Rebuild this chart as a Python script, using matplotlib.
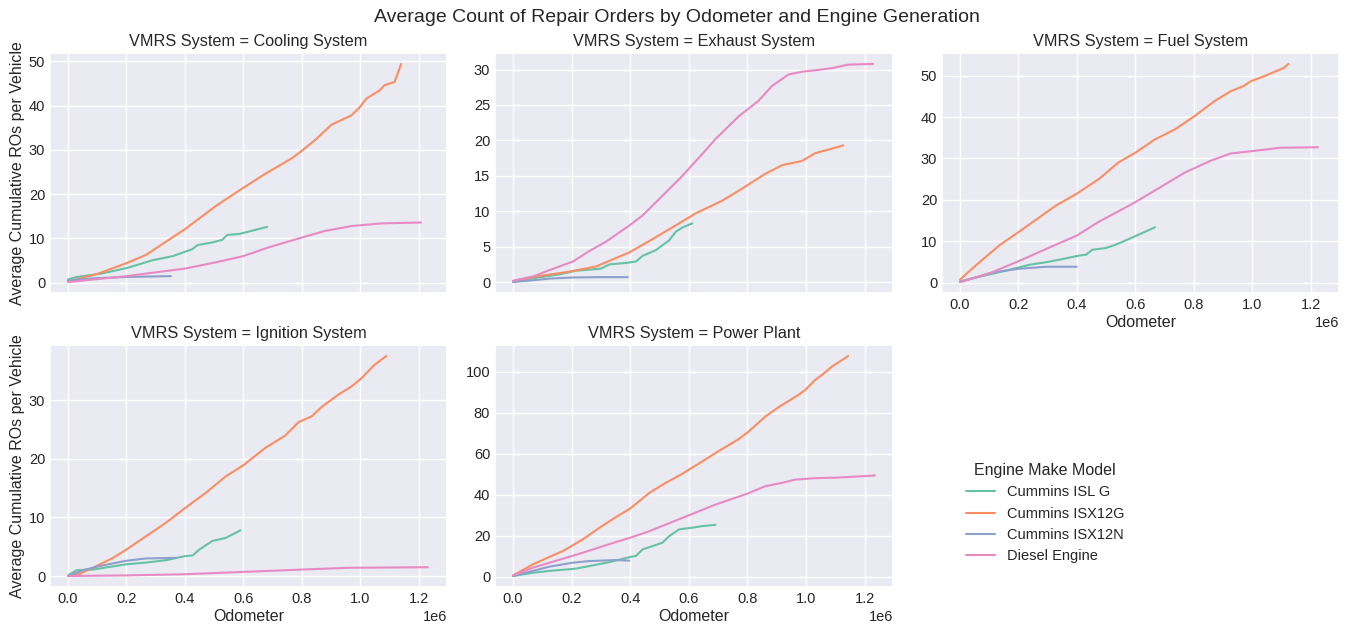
import matplotlib
matplotlib.use("Agg")
import matplotlib.pyplot as plt
import seaborn as sns

# odometer in thousands of miles, values = average cumulative ROs per vehicle
engines = ["Cummins ISL G", "Cummins ISX12G", "Cummins ISX12N", "Diesel Engine"]
systems = ["Cooling System", "Exhaust System", "Fuel System", "Ignition System", "Power Plant"]

# --- Cooling System
cool_islg_x = [0, 29, 109, 199, 245, 290, 358, 426, 443, 494, 528, 545, 585, 681]
cool_islg_y = [0.75, 1.3, 2.0, 3.3, 4.2, 5.1, 6.0, 7.6, 8.5, 9.1, 9.7, 10.8, 11.0, 12.6]
cool_isx12g_x = [0, 100, 199, 267, 400, 505, 599, 675, 766, 800, 845, 902, 970, 998, 1021, 1066, 1083, 1117, 1140]
cool_isx12g_y = [0.3, 2.0, 4.4, 6.3, 12.1, 17.3, 21.4, 24.6, 28.1, 29.8, 32.2, 35.7, 37.8, 39.6, 41.6, 43.4, 44.6, 45.3, 49.4]
cool_isx12n_x = [0, 86, 199, 352]
cool_isx12n_y = [0.5, 1.0, 1.3, 1.5]
cool_diesel_x = [0, 200, 400, 505, 599, 687, 789, 879, 970, 1072, 1208]
cool_diesel_y = [0.15, 1.5, 3.2, 4.6, 6.0, 8.0, 10.0, 11.7, 12.8, 13.4, 13.6]

# --- Exhaust System
exh_islg_x = [0, 79, 159, 215, 300, 329, 385, 419, 442, 487, 533, 555, 578, 612]
exh_islg_y = [0.1, 0.6, 1.1, 1.6, 1.9, 2.5, 2.7, 2.9, 3.7, 4.5, 5.9, 7.1, 7.7, 8.3]
exh_isx12g_x = [0, 79, 181, 283, 397, 465, 555, 623, 714, 782, 861, 918, 986, 1031, 1076, 1127]
exh_isx12g_y = [0.1, 0.8, 1.4, 2.2, 4.2, 5.8, 8.0, 9.7, 11.5, 13.2, 15.3, 16.5, 17.1, 18.2, 18.7, 19.3]
exh_isx12n_x = [0, 79, 125, 204, 295, 391]
exh_isx12n_y = [0.0, 0.3, 0.5, 0.65, 0.7, 0.7]
exh_diesel_x = [0, 68, 125, 204, 261, 317, 397, 442, 510, 578, 646, 691, 770, 838, 884, 940, 986, 1031, 1088, 1144, 1229]
exh_diesel_y = [0.2, 0.8, 1.7, 2.9, 4.4, 5.7, 8.0, 9.4, 12.2, 15.0, 18.1, 20.2, 23.4, 25.6, 27.7, 29.3, 29.7, 29.9, 30.2, 30.7, 30.8]

# --- Fuel System
fuel_islg_x = [0, 104, 199, 239, 295, 340, 408, 431, 453, 498, 532, 588, 667]
fuel_islg_y = [0.4, 2.1, 3.7, 4.4, 5.0, 5.6, 6.6, 6.8, 8.0, 8.4, 9.2, 10.9, 13.4]
fuel_isx12g_x = [0, 25, 70, 137, 199, 273, 329, 399, 476, 543, 600, 667, 735, 802, 870, 926, 971, 994, 1039, 1107, 1124]
fuel_isx12g_y = [0.8, 2.4, 5.2, 9.2, 12.2, 15.9, 18.7, 21.5, 25.1, 29.1, 31.4, 34.6, 37.0, 40.2, 43.8, 46.2, 47.5, 48.6, 49.8, 51.8, 52.8]
fuel_isx12n_x = [0, 104, 199, 295, 399]
fuel_isx12n_y = [0.2, 2.4, 3.4, 3.9, 3.9]
fuel_diesel_x = [0, 104, 199, 295, 399, 476, 588, 667, 769, 859, 926, 1039, 1095, 1225]
fuel_diesel_y = [0.2, 2.4, 5.2, 8.2, 11.4, 14.8, 19.0, 22.3, 26.6, 29.5, 31.2, 32.1, 32.6, 32.7]

# --- Ignition System
ign_islg_x = [0, 29, 86, 199, 267, 335, 400, 426, 449, 494, 539, 590]
ign_islg_y = [0.1, 1.0, 1.1, 2.0, 2.3, 2.7, 3.4, 3.5, 4.5, 6.0, 6.5, 7.8]
ign_isx12g_x = [0, 41, 97, 154, 199, 267, 335, 400, 471, 539, 599, 675, 743, 789, 834, 868, 925, 970, 1004, 1049, 1089]
ign_isx12g_y = [0, 0.4, 1.7, 3.1, 4.5, 6.8, 9.1, 11.6, 14.2, 17.0, 18.9, 21.9, 24.0, 26.3, 27.3, 28.9, 31.0, 32.4, 33.8, 36.1, 37.6]
ign_isx12n_x = [0, 52, 109, 199, 267, 369]
ign_isx12n_y = [0, 1.0, 1.7, 2.6, 3.0, 3.1]
ign_diesel_x = [0, 199, 400, 599, 800, 959, 1231]
ign_diesel_y = [0, 0.1, 0.3, 0.7, 1.1, 1.4, 1.5]

# --- Power Plant
pp_islg_x = [0, 68, 125, 215, 272, 329, 400, 419, 442, 476, 510, 533, 567, 612, 646, 691]
pp_islg_y = [0.3, 1.9, 2.8, 3.9, 5.5, 7.1, 9.6, 10.1, 13.3, 14.9, 16.6, 19.8, 23.1, 23.9, 24.7, 25.3]
pp_isx12g_x = [0, 68, 125, 170, 238, 295, 351, 400, 465, 521, 578, 646, 691, 770, 804, 861, 906, 974, 997, 1031, 1065, 1088, 1144]
pp_isx12g_y = [0.6, 6.0, 9.7, 12.5, 18.2, 23.9, 29.1, 33.3, 40.9, 45.8, 50.3, 56.3, 60.4, 67.2, 70.9, 78.2, 82.8, 88.8, 91.2, 96.1, 99.8, 102.6, 107.8]
pp_isx12n_x = [0, 68, 125, 204, 261, 351, 397]
pp_isx12n_y = [0.3, 2.8, 4.9, 6.8, 7.6, 8.1, 7.8]
pp_diesel_x = [0, 68, 125, 238, 351, 400, 465, 578, 691, 801, 861, 918, 963, 1031, 1110, 1235]
pp_diesel_y = [0.6, 4.4, 6.8, 11.7, 16.9, 19.0, 22.2, 28.7, 35.2, 40.6, 44.2, 45.8, 47.4, 48.1, 48.4, 49.4]

panels = [
    [(cool_islg_x, cool_islg_y), (cool_isx12g_x, cool_isx12g_y), (cool_isx12n_x, cool_isx12n_y), (cool_diesel_x, cool_diesel_y)],
    [(exh_islg_x, exh_islg_y), (exh_isx12g_x, exh_isx12g_y), (exh_isx12n_x, exh_isx12n_y), (exh_diesel_x, exh_diesel_y)],
    [(fuel_islg_x, fuel_islg_y), (fuel_isx12g_x, fuel_isx12g_y), (fuel_isx12n_x, fuel_isx12n_y), (fuel_diesel_x, fuel_diesel_y)],
    [(ign_islg_x, ign_islg_y), (ign_isx12g_x, ign_isx12g_y), (ign_isx12n_x, ign_isx12n_y), (ign_diesel_x, ign_diesel_y)],
    [(pp_islg_x, pp_islg_y), (pp_isx12g_x, pp_isx12g_y), (pp_isx12n_x, pp_isx12n_y), (pp_diesel_x, pp_diesel_y)],
]

sns.set_theme(style="darkgrid")
plt.rcParams["font.family"] = ["Liberation Sans", "DejaVu Sans"]
plt.rcParams.update({
    "xtick.major.size": 0, "ytick.major.size": 0,
    "xtick.major.pad": 3.5, "ytick.major.pad": 3.5,
    "xtick.labelsize": 10.5, "ytick.labelsize": 10.5,
    "axes.labelpad": 2.5,
})
colors = sns.color_palette("Set2", 4)

W, H = 1354, 624
fig = plt.figure(figsize=(W / 100, H / 100), dpi=100)

# axes boxes in pixels: left, top, right, bottom
boxes = [(50, 53, 447, 293), (495, 53, 893, 293), (942, 53, 1339, 293),
         (50, 345, 447, 587), (495, 345, 893, 587)]

axes = []
for i, (l, t, r, b) in enumerate(boxes):
    rect = [l / W, 1 - b / H, (r - l) / W, (b - t) / H]
    ax = fig.add_axes(rect, sharex=axes[0] if axes else None)
    axes.append(ax)

handles = []
for ax, name, series in zip(axes, systems, panels):
    for (xs, ys), eng, c in zip(series, engines, colors):
        ln, = ax.plot([v * 1000 for v in xs], ys, color=c, lw=1.5, label=eng)
        if ax is axes[0]:
            handles.append(ln)
    ax.set_title(f"VMRS System = {name}", fontsize=11.7, pad=5)
    ax.xaxis.offsetText.set_fontsize(10.5)

for ax in axes[:2]:
    ax.tick_params(labelbottom=False)
    ax.xaxis.offsetText.set_visible(False)
for ax in (axes[2], axes[3], axes[4]):
    ax.set_xlabel("Odometer", fontsize=11.5)
for ax in (axes[0], axes[3]):
    ax.set_ylabel("Average Cumulative ROs per Vehicle", fontsize=11.5)

fig.suptitle("Average Count of Repair Orders by Odometer and Engine Generation",
             fontsize=14, y=1 - 17 / H, va="center")

fig.legend(handles, engines, title="Engine Make Model", loc="upper left",
           bbox_to_anchor=(953 / W, 1 - 450 / H), frameon=False,
           fontsize=10.5, title_fontsize=11.5)

fig.savefig("out.png", dpi=100)
